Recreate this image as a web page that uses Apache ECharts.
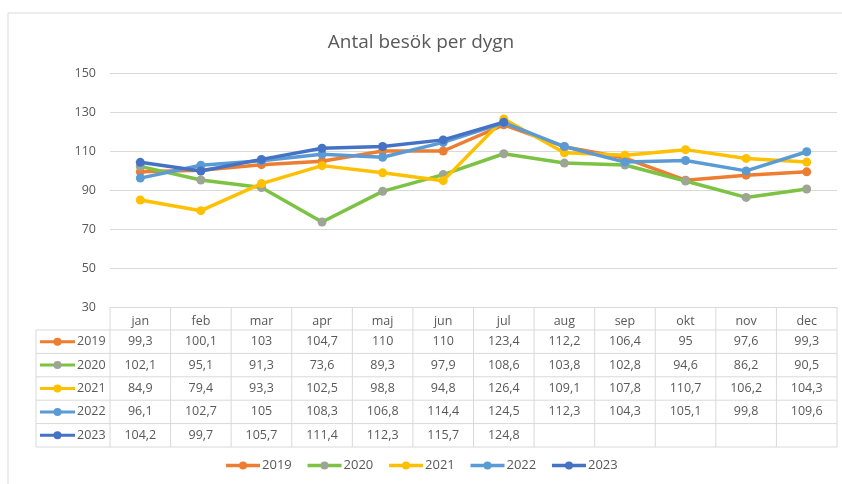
<!DOCTYPE html>
<html>
<head>
<meta charset="utf-8">
<script src="https://cdn.jsdelivr.net/npm/echarts@6/dist/echarts.min.js"></script>
<style>
html, body { margin: 0; padding: 0; background: #fff; }
#main { width: 842px; height: 484px; }
</style>
</head>
<body>
<div id="main"></div>
<script>
var months = ['jan', 'feb', 'mar', 'apr', 'maj', 'jun', 'jul', 'aug', 'sep', 'okt', 'nov', 'dec'];
var years = ['2019', '2020', '2021', '2022', '2023'];

var v2019 = [99.3, 100.1, 103, 104.7, 110, 110, 123.4, 112.2, 106.4, 95, 97.6, 99.3];
var v2020 = [102.1, 95.1, 91.3, 73.6, 89.3, 97.9, 108.6, 103.8, 102.8, 94.6, 86.2, 90.5];
var v2021 = [84.9, 79.4, 93.3, 102.5, 98.8, 94.8, 126.4, 109.1, 107.8, 110.7, 106.2, 104.3];
var v2022 = [96.1, 102.7, 105, 108.3, 106.8, 114.4, 124.5, 112.3, 104.3, 105.1, 99.8, 109.6];
var v2023 = [104.2, 99.7, 105.7, 111.4, 112.3, 115.7, 124.8, null, null, null, null, null];

var yTicks = [30, 50, 70, 90, 110, 130, 150];

var lineColors = ['#ED7D31', '#7CC243', '#FFC000', '#5B9BD5', '#4472C4'];
var markerColors = ['#ED7D31', '#9DA594', '#FFC000', '#5B9BD5', '#4472C4'];
var allValues = [v2019, v2020, v2021, v2022, v2023];

var fmt = function (v) {
	return v == null ? '' : String(v).replace('.', ',');
};

var chart = echarts.init(document.getElementById('main'));

var series = years.map(function (y, i) {
	return {
		name: y,
		type: 'line',
		data: allValues[i],
		symbol: 'circle',
		symbolSize: 9,
		lineStyle: { color: lineColors[i], width: 3.5 },
		itemStyle: { color: markerColors[i] },
		z: 2 + i
	};
});

var gridLeft = 110, gridRight = 5, gridTop = 73, gridBottom = 177;

chart.setOption({
	animation: false,
	title: {
		text: 'Antal besök per dygn',
		left: 'center',
		top: 28,
		textStyle: { fontFamily: 'Open Sans', fontSize: 19, fontWeight: 'normal', color: '#595959' }
	},
	legend: {
		bottom: 7,
		left: 'center',
		itemWidth: 34,
		itemHeight: 10,
		itemGap: 14,
		lineStyle: { width: 3.5 },
		textStyle: { fontFamily: 'Open Sans', fontSize: 13, color: '#595959', padding: [0, 0, 0, -3] },
		data: years
	},
	grid: { left: gridLeft, right: gridRight, top: gridTop, bottom: gridBottom },
	xAxis: {
		type: 'category',
		data: months,
		boundaryGap: true,
		axisLine: { lineStyle: { color: '#D9D9D9', width: 1 } },
		axisTick: { show: false },
		axisLabel: { margin: 8, fontFamily: 'Open Sans', fontSize: 12.5, color: '#595959' }
	},
	yAxis: {
		type: 'value',
		min: yTicks[0],
		max: yTicks[yTicks.length - 1],
		interval: 20,
		axisLine: { show: false },
		axisTick: { show: false },
		axisLabel: { margin: 14, fontFamily: 'Open Sans', fontSize: 12.5, color: '#595959' },
		splitLine: { lineStyle: { color: '#D9D9D9', width: 1 } }
	},
	series: series
});

// data table under the axis, columns follow the category axis
var gfx = [];
var lineCol = '#D9D9D9';
var plotLeft = gridLeft, plotRight = 842 - gridRight;
var colW = (plotRight - plotLeft) / months.length;
var tableTop = 484 - gridBottom;
var headH = 23, rowH = 23.4;
var keyLeft = 36;
var rowsTop = tableTop + headH;
var tableBottom = rowsTop + rowH * years.length;

function hline(x1, x2, y) {
	gfx.push({ type: 'line', silent: true, shape: { x1: x1, y1: y, x2: x2, y2: y }, style: { stroke: lineCol, lineWidth: 1 } });
}
function vline(x, y1, y2) {
	gfx.push({ type: 'line', silent: true, shape: { x1: x, y1: y1, x2: x, y2: y2 }, style: { stroke: lineCol, lineWidth: 1 } });
}

hline(plotLeft, plotRight, rowsTop);
for (var r = 1; r <= years.length; r++) hline(keyLeft, plotRight, rowsTop + rowH * r);
hline(keyLeft, plotLeft, rowsTop);
vline(keyLeft, rowsTop, tableBottom);
for (var c = 0; c <= months.length; c++) vline(plotLeft + colW * c, tableTop, tableBottom);

years.forEach(function (y, i) {
	var cy = rowsTop + rowH * i + rowH / 2;
	gfx.push({ type: 'line', silent: true, shape: { x1: 40, y1: cy, x2: 75, y2: cy }, style: { stroke: lineColors[i], lineWidth: 3 } });
	gfx.push({ type: 'circle', silent: true, shape: { cx: 57.5, cy: cy, r: 4 }, style: { fill: markerColors[i] } });
	gfx.push({ type: 'text', silent: true, x: 77, y: cy, style: { text: y, fill: '#595959', font: '12.5px "Open Sans"', textVerticalAlign: 'middle' } });
	allValues[i].forEach(function (v, j) {
		var px = chart.convertToPixel({ xAxisIndex: 0 }, months[j]);
		gfx.push({ type: 'text', silent: true, x: px, y: cy, style: { text: fmt(v), fill: '#595959', font: '12.5px "Open Sans"', textAlign: 'center', textVerticalAlign: 'middle' } });
	});
});

// chart frame
gfx.push({ type: 'line', silent: true, shape: { x1: 8, y1: 13, x2: 842, y2: 13 }, style: { stroke: lineCol, lineWidth: 1 } });
gfx.push({ type: 'line', silent: true, shape: { x1: 8, y1: 13, x2: 8, y2: 484 }, style: { stroke: lineCol, lineWidth: 1 } });

chart.setOption({ graphic: gfx });
</script>
</body>
</html>
